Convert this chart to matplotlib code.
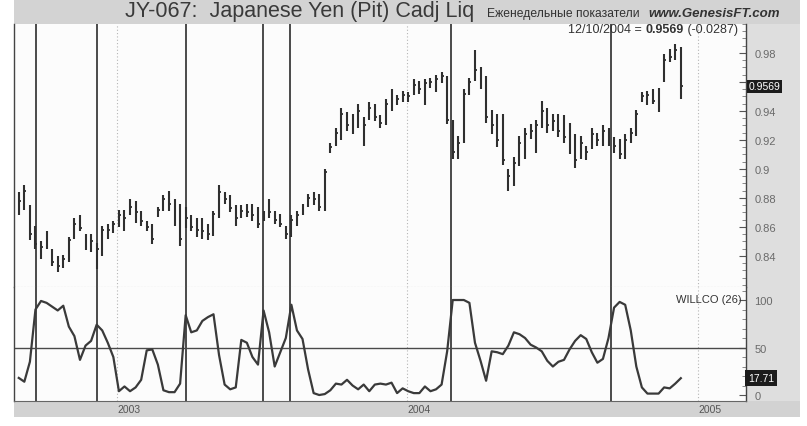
import matplotlib
matplotlib.use('Agg')
import matplotlib.pyplot as plt
import matplotlib.dates as mdates
import matplotlib.transforms as mtransforms
from matplotlib.patches import Rectangle
from matplotlib.ticker import MultipleLocator
import pandas as pd

plt.rcParams['font.family'] = ['Liberation Sans', 'DejaVu Sans']

W, H = 807, 427

# ---------------- data ----------------
weeks = pd.date_range('2002-08-30', periods=120, freq='7D')

highs = [0.884, 0.889, 0.875, 0.861, 0.850, 0.857, 0.845, 0.840, 0.841, 0.853,
         0.866, 0.868, 0.855, 0.855, 0.849, 0.861, 0.862, 0.864, 0.872, 0.872,
         0.879, 0.878, 0.871, 0.864, 0.862, 0.874, 0.882, 0.885, 0.879, 0.876,
         0.874, 0.868, 0.866, 0.866, 0.862, 0.871, 0.889, 0.884, 0.882, 0.875,
         0.875, 0.876, 0.876, 0.874, 0.871, 0.879, 0.871, 0.869, 0.861, 0.868,
         0.871, 0.876, 0.883, 0.884, 0.883, 0.900, 0.918, 0.928, 0.942, 0.939,
         0.938, 0.945, 0.936, 0.946, 0.945, 0.937, 0.948, 0.955, 0.951, 0.954,
         0.953, 0.962, 0.961, 0.962, 0.963, 0.965, 0.967, 0.964, 0.934, 0.923,
         0.955, 0.963, 0.982, 0.970, 0.964, 0.941, 0.938, 0.938, 0.900, 0.908,
         0.923, 0.928, 0.931, 0.934, 0.947, 0.942, 0.938, 0.938, 0.937, 0.932,
         0.924, 0.923, 0.916, 0.928, 0.925, 0.930, 0.928, 0.922, 0.921, 0.924,
         0.928, 0.941, 0.953, 0.954, 0.955, 0.956, 0.979, 0.983, 0.986, 0.984]

lows = [0.868, 0.872, 0.851, 0.845, 0.838, 0.845, 0.833, 0.829, 0.832, 0.836,
        0.852, 0.857, 0.844, 0.843, 0.831, 0.840, 0.852, 0.856, 0.860, 0.857,
        0.868, 0.863, 0.861, 0.857, 0.848, 0.867, 0.871, 0.871, 0.861, 0.847,
        0.859, 0.857, 0.853, 0.852, 0.851, 0.854, 0.866, 0.876, 0.870, 0.861,
        0.866, 0.867, 0.864, 0.859, 0.864, 0.866, 0.862, 0.860, 0.852, 0.853,
        0.861, 0.868, 0.874, 0.875, 0.871, 0.871, 0.911, 0.916, 0.920, 0.926,
        0.924, 0.928, 0.916, 0.934, 0.933, 0.928, 0.930, 0.940, 0.944, 0.946,
        0.946, 0.951, 0.952, 0.944, 0.956, 0.953, 0.959, 0.931, 0.907, 0.907,
        0.918, 0.951, 0.961, 0.955, 0.932, 0.924, 0.915, 0.903, 0.885, 0.888,
        0.902, 0.907, 0.921, 0.911, 0.928, 0.925, 0.926, 0.922, 0.918, 0.910,
        0.901, 0.907, 0.906, 0.914, 0.916, 0.916, 0.916, 0.911, 0.907, 0.907,
        0.918, 0.923, 0.946, 0.944, 0.945, 0.939, 0.960, 0.974, 0.975, 0.948]

closes = [0.878, 0.885, 0.855, 0.848, 0.846, 0.848, 0.836, 0.833, 0.838, 0.851,
          0.862, 0.859, 0.848, 0.850, 0.845, 0.858, 0.858, 0.862, 0.868, 0.866,
          0.874, 0.870, 0.864, 0.860, 0.852, 0.872, 0.879, 0.876, 0.865, 0.852,
          0.866, 0.860, 0.858, 0.857, 0.855, 0.869, 0.884, 0.879, 0.873, 0.866,
          0.871, 0.870, 0.868, 0.862, 0.868, 0.870, 0.865, 0.862, 0.855, 0.865,
          0.868, 0.873, 0.880, 0.879, 0.874, 0.898, 0.915, 0.925, 0.938, 0.930,
          0.934, 0.940, 0.930, 0.942, 0.936, 0.932, 0.945, 0.950, 0.948, 0.951,
          0.950, 0.958, 0.955, 0.959, 0.960, 0.962, 0.964, 0.934, 0.912, 0.918,
          0.952, 0.960, 0.968, 0.958, 0.936, 0.930, 0.920, 0.906, 0.895, 0.904,
          0.918, 0.924, 0.926, 0.930, 0.940, 0.930, 0.933, 0.926, 0.922, 0.914,
          0.906, 0.918, 0.912, 0.924, 0.920, 0.926, 0.920, 0.916, 0.910, 0.920,
          0.925, 0.938, 0.950, 0.951, 0.947, 0.952, 0.975, 0.977, 0.982, 0.9569]

willco = [18, 14, 35, 90, 99, 97, 93, 89, 94, 72,
          62, 37, 52, 57, 74, 68, 55, 40, 4, 9,
          4, 8, 16, 47, 48, 32, 5, 3, 3, 12,
          84, 66, 68, 78, 82, 85, 42, 11, 6, 8,
          58, 55, 40, 32, 89, 66, 30, 45, 60, 95,
          68, 59, 27, 2, 0, 1, 5, 12, 11, 16,
          10, 6, 11, 4, 11, 12, 11, 13, 2, 7,
          4, 2, 2, 9, 4, 6, 11, 46, 100, 100,
          100, 97, 55, 36, 15, 46, 45, 43, 52, 66,
          64, 60, 53, 50, 46, 36, 30, 35, 37, 48,
          57, 63, 59, 45, 34, 38, 60, 92, 98, 95,
          68, 30, 8, 1.5, 1.5, 1.5, 8, 7, 12, 17.71]

signal_dates = ['2002-09-21', '2002-12-07', '2003-03-28', '2003-07-03',
                '2003-08-06', '2004-02-25', '2004-09-13']
year_dates = ['2003-01-01', '2004-01-01', '2005-01-01']
year_labels = ['2003', '2004', '2005']
price_ticks = [0.84, 0.86, 0.88, 0.90, 0.92, 0.94, 0.96, 0.98]
price_labels = ['0.84', '0.86', '0.88', '0.9', '0.92', '0.94', '', '0.98']
willco_ticks = [0, 50, 100]
willco_labels = ['0', '50', '100']
last_date = '12/10/2004'
last_close = 0.9569
last_change = -0.0287
last_willco = 17.71

# ---------------- figure ----------------
fig = plt.figure(figsize=(W / 100, H / 100), dpi=100)
fig.patch.set_facecolor('white')


def rect_px(x0, y0, x1, y1):
    return [x0 / W, 1 - y1 / H, (x1 - x0) / W, (y1 - y0) / H]


def add_bg(x0, y0, x1, y1, color):
    l, b, w, h = rect_px(x0, y0, x1, y1)
    fig.patches.append(Rectangle((l, b), w, h, transform=fig.transFigure,
                                 facecolor=color, edgecolor='none', zorder=-5))


add_bg(14, 0, 800, 25, '#d3d3d3')      # title strip
add_bg(745, 25, 800, 418, '#dedede')   # right label strip
add_bg(14, 402, 800, 418, '#d2d2d2')   # bottom date strip

ax1 = fig.add_axes(rect_px(14, 25, 746, 288))
ax2 = fig.add_axes(rect_px(14, 288, 746, 402), sharex=ax1)

x = mdates.date2num(weeks)
xmin = mdates.date2num(pd.Timestamp('2002-08-24'))
xmax = mdates.date2num(pd.Timestamp('2005-03-02'))

dark = '#2f2f2f'
for ax in (ax1, ax2):
    ax.set_facecolor('#fcfcfc')
    ax.set_xlim(xmin, xmax)
    ax.yaxis.tick_right()
    ax.tick_params(axis='x', length=0, labelbottom=False)
    ax.tick_params(axis='y', which='major', direction='in', length=5,
                   color='#555', labelcolor='#6a6a6a', labelsize=8, pad=6)
    ax.tick_params(axis='y', which='minor', direction='in', length=3, color='#777')
    for yd in year_dates:
        ax.axvline(mdates.date2num(pd.Timestamp(yd)), color='#b5b5b5',
                   lw=0.8, ls=(0, (1, 2)), zorder=1)
    for sd in signal_dates:
        ax.axvline(mdates.date2num(pd.Timestamp(sd)), color='#4a4a4a',
                   lw=1.4, zorder=2)
    for s in ('left', 'right'):
        ax.spines[s].set_color('#444')
        ax.spines[s].set_linewidth(1.0)
    ax.spines['top'].set_visible(False)

ax1.spines['bottom'].set_color('#aaaaaa')
ax1.spines['bottom'].set_linestyle((0, (1, 2)))
ax2.spines['bottom'].set_color('#666')

# price bars
ax1.vlines(x, lows, highs, color=dark, lw=1.5, zorder=3)
ax1.hlines(closes, x, x + 2.4, color=dark, lw=1.3, zorder=3)
ax1.set_ylim(0.8186, 1.0)
ax1.set_yticks(price_ticks)
ax1.set_yticklabels(price_labels)
ax1.yaxis.set_minor_locator(MultipleLocator(0.005))

# WILLCO
ax2.plot(x, willco, color='#3a3a3a', lw=1.6, zorder=3)
ax2.axhline(50, color='#4a4a4a', lw=1.0, zorder=2)
ax2.set_ylim(-6.3, 113.7)
ax2.set_yticks(willco_ticks)
ax2.set_yticklabels(willco_labels)
ax2.yaxis.set_minor_locator(MultipleLocator(10))

# value boxes
bt1 = mtransforms.blended_transform_factory(ax1.transAxes, ax1.transData)
ax1.text(1.003, last_close, f'{last_close:.4f}', transform=bt1, ha='left',
         va='center', color='white', fontsize=7.5, zorder=5, clip_on=False,
         bbox=dict(facecolor='#1c1c1c', edgecolor='none', pad=1.2))
bt2 = mtransforms.blended_transform_factory(ax2.transAxes, ax2.transData)
ax2.text(1.003, last_willco, f'{last_willco:.2f}', transform=bt2, ha='left',
         va='center', color='white', fontsize=7.5, zorder=5, clip_on=False,
         bbox=dict(facecolor='#1c1c1c', edgecolor='none', pad=2.0))

# year labels
for yd, lab in zip(year_dates, year_labels):
    ax2.annotate(lab, xy=(mdates.date2num(pd.Timestamp(yd)), 0),
                 xycoords=('data', 'axes fraction'), xytext=(0, -6),
                 textcoords='offset points', ha='left', va='center',
                 fontsize=7.5, color='#555', annotation_clip=False)

ax2.text(0.994, 0.94, 'WILLCO (26)', transform=ax2.transAxes, ha='right',
         va='top', fontsize=8, color='#333', zorder=5)

# header texts
fig.text(125 / W, 1 - 12 / H, 'JY-067:  Japanese Yen (Pit) Cadj Liq',
         fontsize=15.5, color='#3a3a3a', va='center', ha='left')
fig.text(487 / W, 1 - 14 / H, 'Еженедельные показатели', fontsize=8.7,
         color='#333', va='center', ha='left')
fig.text(648 / W, 1 - 14 / H, 'www.GenesisFT.com', fontsize=9.5,
         weight='bold', style='italic', color='#333', va='center', ha='left')

fig.canvas.draw()
renderer = fig.canvas.get_renderer()
xpos = 568
parts = [(f'{last_date} = ', 'normal'), (f'{last_close:.4f}', 'bold'),
         (f' ({last_change:+.4f})', 'normal')]
for s, w in parts:
    t = fig.text(xpos / W, 1 - 30 / H, s, fontsize=9, weight=w,
                 color='#333', va='center', ha='left')
    bb = t.get_window_extent(renderer)
    xpos += bb.width

fig.savefig('out.png', dpi=100)
